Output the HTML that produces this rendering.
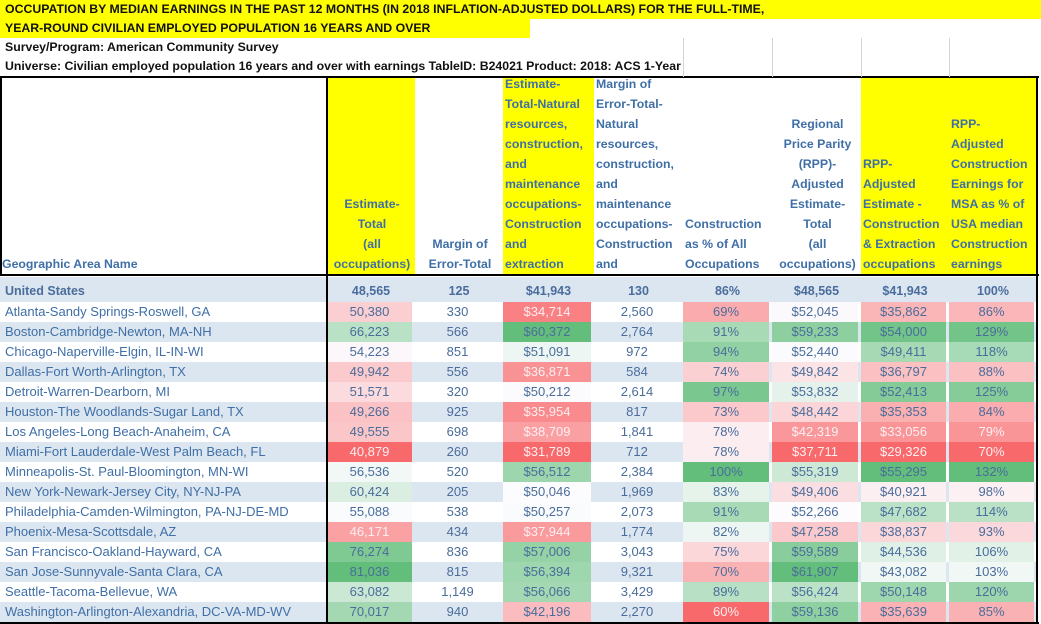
<!DOCTYPE html>
<html><head><meta charset="utf-8">
<style>
html,body{margin:0;padding:0;background:#fff;}
body{width:1041px;height:624px;position:relative;overflow:hidden;font-family:"Liberation Sans",Arial,sans-serif;font-weight:bold;}
.abs{position:absolute;box-sizing:border-box;}
.title{background:#ffff00;color:#111;font-size:12.3px;line-height:19px;padding-left:5px;white-space:nowrap;}
.sub{color:#111;font-size:12.3px;line-height:19px;padding-left:5px;white-space:nowrap;}
.hdr{font-size:12.3px;line-height:20px;color:#3f6fa6;white-space:nowrap;}
.cell{font-size:13px;line-height:20px;color:#4a6d9c;white-space:nowrap;text-align:center;font-weight:normal;}
.name{text-align:left;padding-left:5px;}
</style></head><body>
<div class="abs title" style="left:0;top:0;width:1041px;height:19px">OCCUPATION BY MEDIAN EARNINGS IN THE PAST 12 MONTHS (IN 2018 INFLATION-ADJUSTED DOLLARS) FOR THE FULL-TIME,</div>
<div class="abs title" style="left:0;top:19px;width:530px;height:19px">YEAR-ROUND CIVILIAN EMPLOYED POPULATION 16 YEARS AND OVER</div>
<div class="abs sub" style="left:0;top:38px;height:19px">Survey/Program: American Community Survey</div>
<div class="abs sub" style="left:0;top:57px;height:19px">Universe: Civilian employed population 16 years and over with earnings TableID: B24021 Product: 2018: ACS 1-Year</div>
<div id="grid"></div>
<script>
const areas=["Atlanta-Sandy Springs-Roswell, GA","Boston-Cambridge-Newton, MA-NH","Chicago-Naperville-Elgin, IL-IN-WI","Dallas-Fort Worth-Arlington, TX","Detroit-Warren-Dearborn, MI","Houston-The Woodlands-Sugar Land, TX","Los Angeles-Long Beach-Anaheim, CA","Miami-Fort Lauderdale-West Palm Beach, FL","Minneapolis-St. Paul-Bloomington, MN-WI","New York-Newark-Jersey City, NY-NJ-PA","Philadelphia-Camden-Wilmington, PA-NJ-DE-MD","Phoenix-Mesa-Scottsdale, AZ","San Francisco-Oakland-Hayward, CA","San Jose-Sunnyvale-Santa Clara, CA","Seattle-Tacoma-Bellevue, WA","Washington-Arlington-Alexandria, DC-VA-MD-WV"];
const estTotal=[50380,66223,54223,49942,51571,49266,49555,40879,56536,60424,55088,46171,76274,81036,63082,70017];
const moeTotal=[330,566,851,556,320,925,698,260,520,205,538,434,836,815,1149,940];
const estConst=[34714,60372,51091,36871,50212,35954,38709,31789,56512,50046,50257,37944,57006,56394,56066,42196];
const moeConst=[2560,2764,972,584,2614,817,1841,712,2384,1969,2073,1774,3043,9321,3429,2270];
const constPct=[69,91,94,74,97,73,78,78,100,83,91,82,75,70,89,60];
const rppTotal=[52045,59233,52440,49842,53832,48442,42319,37711,55319,49406,52266,47258,59589,61907,56424,59136];
const rppConst=[35862,54000,49411,36797,52413,35353,33056,29326,55295,40921,47682,38837,44536,43082,50148,35639];
const usaPct=[86,129,118,88,125,84,79,70,132,98,114,93,106,103,120,85];
const usRow=["United States","48,565","125","$41,943","130","86%","$48,565","$41,943","100%"];

const X=[0,327,415,503,594,683,772,861,949,1037];
const g=document.getElementById('grid');
function mk(cls,l,t,w,h,html,name){const d=document.createElement('div');d.className='abs '+cls;d.style.left=l+'px';d.style.top=t+'px';d.style.width=w+'px';d.style.height=h+'px';d.innerHTML=html;


g.appendChild(d);return d;}
const hdrs=[
 ["Geographic Area Name","left",false],
 ["Estimate-<br>Total<br>(all<br>occupations)","center",true],
 ["Margin of<br>Error-Total","center",false],
 ["Estimate-<br>Total-Natural<br>resources,<br>construction,<br>and<br>maintenance<br>occupations-<br>Construction<br>and<br>extraction","left",true],
 ["Margin of<br>Error-Total-<br>Natural<br>resources,<br>construction,<br>and<br>maintenance<br>occupations-<br>Construction<br>and","left",false],
 ["Construction<br>as % of All<br>Occupations","left",false],
 ["Regional<br>Price Parity<br>(RPP)-<br>Adjusted<br>Estimate-<br>Total<br>(all<br>occupations)","center",false],
 ["RPP-<br>Adjusted<br>Estimate -<br>Construction<br>&amp; Extraction<br>occupations","left",true],
 ["RPP-<br>Adjusted<br>Construction<br>Earnings for<br>MSA as % of<br>USA median<br>Construction<br>earnings","left",true]];
const HT=77,HB=275;
hdrs.forEach((h,i)=>{
  const d=mk('hdr',X[i],HT,X[i+1]-X[i],HB-HT,'','header-'+i);
  if(h[2])d.style.background='#ffff00';
  d.style.textAlign=h[1];d.style.display='flex';d.style.flexDirection='column';d.style.justifyContent='flex-end';d.style.padding='0 0 1px 2px';d.style.overflow='hidden';
  const s=document.createElement('div');s.innerHTML=h[0];d.appendChild(s);
});
const RT=277,RH=25;
mk('',0,RT,1037,RH,'','us-row-bg').style.background='#dce6f1';
usRow.forEach((v,i)=>{const d=mk('cell'+(i==0?' name':''),X[i],RT,X[i+1]-X[i],RH,v,'us-'+i);d.style.lineHeight=(RH+4)+'px';d.style.fontWeight='bold';d.style.fontSize='12.5px';});
const R=[248,105,107],W=[252,252,255],G=[99,190,123];
function scale(arr,v){const s=[...arr].sort((a,b)=>a-b);const mn=s[0],mx=s[s.length-1],md=(s[7]+s[8])/2;
 let t,c;if(v<=md){t=(md-v)/((md-mn)||1);c=R;}else{t=(v-md)/((mx-md)||1);c=G;}
 const f=[0,1,2].map(k=>Math.round(W[k]+(c[k]-W[k])*t));return {bg:'rgb('+f+')',t:t,red:c===R};}
const fmt=n=>n.toLocaleString('en-US');
const cols=[[estTotal,v=>fmt(v),true],[moeTotal,v=>fmt(v),false],[estConst,v=>'$'+fmt(v),true],[moeConst,v=>fmt(v),false],[constPct,v=>v+'%',true],[rppTotal,v=>'$'+fmt(v),true],[rppConst,v=>'$'+fmt(v),true],[usaPct,v=>v+'%',true]];
const BT=302,BH=20;
areas.forEach((a,r)=>{
  const y=BT+r*BH;const rowbg=r%2?'#dce6f1':'#ffffff';
  const bg=mk('',0,y,1037,BH,'','row-bg-'+r);bg.style.background=rowbg;
  mk('cell name',0,y,327,BH,a,'area-name').style.color='#3f6fa6';
  cols.forEach((c,j)=>{
    const d=mk('cell',X[j+1],y,X[j+2]-X[j+1]-3,BH,c[1](c[0][r]),'value-cell');
    if(c[2]){const s=scale(c[0],c[0][r]);d.style.background=s.bg;if(s.red&&s.t>0.55)d.style.color='#fdeef0';}
  });
});
const lines=[[0,HT-1,1039,2],[0,HB-1,1039,2],[0,HT-1,2,HB-HT+1],[1036,HT-1,2,624-HT],[326,HT,2,624-HT],[0,622,1039,2]];
lines.forEach((l,i)=>{const d=mk('',l[0],l[1],l[2],l[3],'','border-'+i);d.style.background='#000';});
[683,772,861,949].forEach((x,i)=>{const d=mk('',x,38,1,39,'','gridline-'+i);d.style.background='#d4d4d4';});
</script>
</body></html>
